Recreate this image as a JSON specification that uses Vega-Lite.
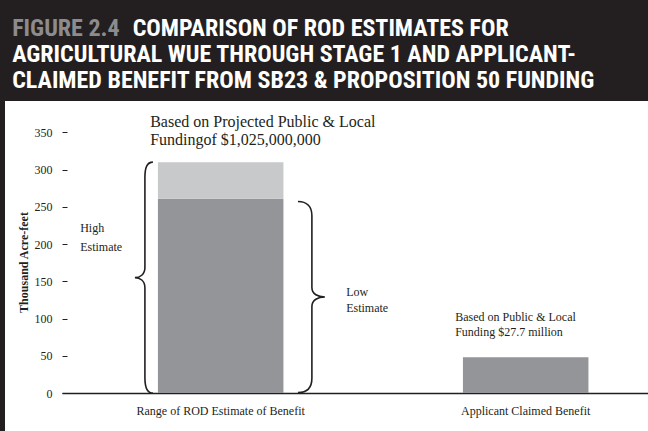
{
  "$schema": "https://vega.github.io/schema/vega-lite/v6.json",
  "width": 643,
  "height": 330,
  "autosize": {"type": "none"},
  "padding": {"left": 5, "top": 101, "right": 0, "bottom": 0},
  "background": "#231f20",
  "view": {"fill": "#ffffff", "stroke": null},
  "config": {"font": "Liberation Serif"},
  "layer": [
    {
      "data": {"values": [
        {"category": "Range of ROD Estimate of Benefit", "estimate": "Low Estimate", "thousand_af": 261},
        {"category": "Range of ROD Estimate of Benefit", "estimate": "High Estimate", "thousand_af": 49},
        {"category": "Applicant Claimed Benefit", "estimate": "Applicant Claimed", "thousand_af": 48}
      ]},
      "mark": {"type": "bar"},
      "encoding": {
        "x": {
          "field": "category", "type": "nominal",
          "scale": {"domain": ["Range of ROD Estimate of Benefit", "Applicant Claimed Benefit"], "paddingInner": 0.5885, "paddingOuter": 0.3483, "align": 0.7197},
          "axis": {"title": null, "orient": "bottom", "offset": -38, "ticks": false, "tickSize": 0, "labelPadding": 12, "labelFont": "Liberation Serif", "labelFontSize": 12, "labelColor": "#231f20", "labelAngle": 0, "domainColor": "#231f20", "domainWidth": 1.5, "domainDash": [0, 57, 2000]}
        },
        "y": {
          "field": "thousand_af", "type": "quantitative", "stack": "zero",
          "scale": {"domain": [-51.05, 392.3], "nice": false, "zero": false},
          "axis": {"title": "Thousand Acre-feet", "orient": "left", "offset": -62, "values": [0, 50, 100, 150, 200, 250, 300, 350], "domain": false, "grid": false, "tickSize": 5, "tickColor": "#231f20", "labelPadding": 10, "labelFont": "Liberation Serif", "labelFontSize": 12, "labelColor": "#231f20", "titleFont": "Liberation Serif", "titleFontSize": 12, "titleFontWeight": "bold", "titleColor": "#231f20", "titleX": -44, "titleY": 161, "titleAngle": -90, "titleAlign": "center", "titleBaseline": "middle"}
        },
        "color": {"field": "estimate", "type": "nominal", "scale": {"domain": ["Low Estimate", "High Estimate", "Applicant Claimed"], "range": ["#939598", "#c8c9cb", "#939598"]}, "legend": null},
        "order": {"field": "estimate", "sort": "descending"}
      }
    },
    {
      "data": {"values": [{}]},
      "mark": {"type": "point", "filled": false, "stroke": "#231f20", "strokeWidth": 1.6, "opacity": 1, "size": 53361,
        "shape": "M0.078,-1 C0.026,-1 0.0087,-0.952 0.0087,-0.866 L0.0087,-0.087 C0.0087,-0.026 -0.035,0 -0.078,0 C-0.035,0 0.0087,0.026 0.0087,0.087 L0.0087,0.866 C0.0087,0.952 0.026,1 0.078,1"},
      "encoding": {
        "x": {"datum": "Range of ROD Estimate of Benefit", "bandPosition": -0.1116},
        "y": {"datum": 155}
      }
    },
    {
      "data": {"values": [{}]},
      "mark": {"type": "point", "filled": false, "stroke": "#231f20", "strokeWidth": 1.6, "opacity": 1, "size": 36481,
        "shape": "M-0.141,-1 C-0.05,-1 0.005,-0.95 0.005,-0.85 L0.005,-0.1 C0.005,-0.03 0.07,0 0.141,0 C0.07,0 0.005,0.03 0.005,0.1 L0.005,0.85 C0.005,0.95 -0.05,1 -0.141,1"},
      "encoding": {
        "x": {"datum": "Range of ROD Estimate of Benefit", "bandPosition": 1.223},
        "y": {"datum": 129}
      }
    },
    {
      "data": {"values": [{}]},
      "mark": {"type": "text", "text": ["High", "Estimate"], "align": "left", "baseline": "alphabetic", "dx": -140.5, "fontSize": 12, "lineHeight": 19, "font": "Liberation Serif", "color": "#231f20"},
      "encoding": {"x": {"datum": "Range of ROD Estimate of Benefit"}, "y": {"datum": 216}}
    },
    {
      "data": {"values": [{}]},
      "mark": {"type": "text", "text": ["Low", "Estimate"], "align": "left", "baseline": "alphabetic", "dx": 125.5, "fontSize": 12, "lineHeight": 16, "font": "Liberation Serif", "color": "#231f20"},
      "encoding": {"x": {"datum": "Range of ROD Estimate of Benefit"}, "y": {"datum": 130}}
    },
    {
      "data": {"values": [{}]},
      "mark": {"type": "text", "text": ["Based on Public & Local", "Funding $27.7 million"], "align": "left", "baseline": "alphabetic", "dx": -70.5, "fontSize": 12, "lineHeight": 15.5, "font": "Liberation Serif", "color": "#231f20"},
      "encoding": {"x": {"datum": "Applicant Claimed Benefit"}, "y": {"datum": 97}}
    },
    {
      "data": {"values": [{}]},
      "mark": {"type": "text", "text": ["Based on Projected Public & Local", "Fundingof $1,025,000,000"], "align": "left", "baseline": "alphabetic", "dx": -70.5, "fontSize": 16, "lineHeight": 18, "font": "Liberation Serif", "color": "#231f20"},
      "encoding": {"x": {"datum": "Range of ROD Estimate of Benefit"}, "y": {"datum": 357}}
    },
    {
      "data": {"values": [{}]},
      "mark": {"type": "text", "text": "FIGURE 2.4", "align": "left", "baseline": "alphabetic", "dx": -208.5, "fontSize": 24, "fontWeight": "bold", "font": "Liberation Sans Narrow, Roboto Condensed, DejaVu Sans Condensed, sans-serif", "color": "#8c8c8e"},
      "encoding": {"x": {"datum": "Range of ROD Estimate of Benefit"}, "y": {"datum": 480}}
    },
    {
      "data": {"values": [{}]},
      "mark": {"type": "text", "text": "COMPARISON OF ROD ESTIMATES FOR", "align": "left", "baseline": "alphabetic", "dx": -88, "fontSize": 24, "fontWeight": "bold", "font": "Liberation Sans Narrow, Roboto Condensed, DejaVu Sans Condensed, sans-serif", "color": "#ffffff"},
      "encoding": {"x": {"datum": "Range of ROD Estimate of Benefit"}, "y": {"datum": 480}}
    },
    {
      "data": {"values": [{}]},
      "mark": {"type": "text", "text": ["AGRICULTURAL WUE THROUGH STAGE 1 AND APPLICANT-", "CLAIMED BENEFIT FROM SB23 & PROPOSITION 50 FUNDING"], "align": "left", "baseline": "alphabetic", "dx": -208.5, "fontSize": 24, "fontWeight": "bold", "lineHeight": 26, "font": "Liberation Sans Narrow, Roboto Condensed, DejaVu Sans Condensed, sans-serif", "color": "#ffffff"},
      "encoding": {"x": {"datum": "Range of ROD Estimate of Benefit"}, "y": {"datum": 445.1}}
    }
  ]
}
